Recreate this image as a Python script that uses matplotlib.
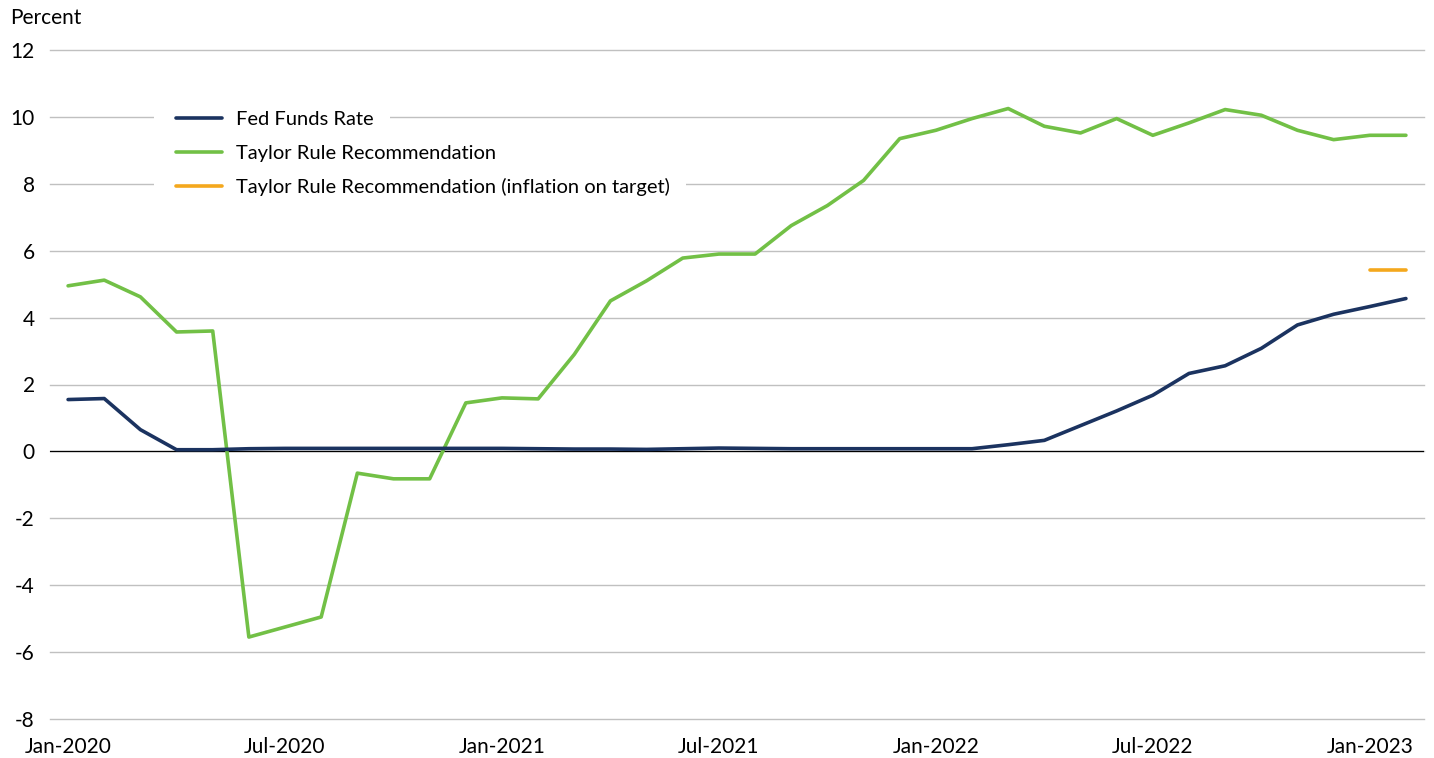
import matplotlib
matplotlib.use("Agg")
import matplotlib.pyplot as plt
from matplotlib.patches import Rectangle
import numpy as np

months = ["Jan-2020","Feb-2020","Mar-2020","Apr-2020","May-2020","Jun-2020","Jul-2020","Aug-2020",
          "Sep-2020","Oct-2020","Nov-2020","Dec-2020","Jan-2021","Feb-2021","Mar-2021","Apr-2021",
          "May-2021","Jun-2021","Jul-2021","Aug-2021","Sep-2021","Oct-2021","Nov-2021","Dec-2021",
          "Jan-2022","Feb-2022","Mar-2022","Apr-2022","May-2022","Jun-2022","Jul-2022","Aug-2022",
          "Sep-2022","Oct-2022","Nov-2022","Dec-2022","Jan-2023","Feb-2023"]

fed_funds = [1.55, 1.58, 0.65, 0.05, 0.05, 0.08, 0.09, 0.09, 0.09, 0.09, 0.09, 0.09, 0.09, 0.08,
             0.07, 0.07, 0.06, 0.08, 0.10, 0.09, 0.08, 0.08, 0.08, 0.08, 0.08, 0.08, 0.20, 0.33,
             0.77, 1.21, 1.68, 2.33, 2.56, 3.08, 3.78, 4.10, 4.33, 4.57]

taylor = [4.95, 5.12, 4.62, 3.57, 3.60, -5.55, -5.25, -4.95, -0.65, -0.82, -0.82, 1.45, 1.60, 1.57,
          2.90, 4.50, 5.10, 5.78, 5.90, 5.90, 6.75, 7.35, 8.10, 9.35, 9.60, 9.95, 10.25, 9.72,
          9.52, 9.95, 9.45, 9.82, 10.22, 10.05, 9.60, 9.32, 9.45, 9.45]

taylor_on_target = [np.nan] * 36 + [5.41, 5.41]

tick_labels = ["Jan-2020", "Jul-2020", "Jan-2021", "Jul-2021", "Jan-2022", "Jul-2022", "Jan-2023"]

plt.rcParams['font.family'] = ['Lato', 'DejaVu Sans']
plt.rcParams['axes.unicode_minus'] = False

fig = plt.figure(figsize=(14.34, 7.58), dpi=100)
ax = fig.add_axes([50/1434, 1-719/758, (1424-50)/1434, (719-50)/758])

x = np.arange(len(months))
navy = "#1b3360"
green = "#72c046"
orange = "#f4a81d"
lw = 2.6

ax.plot(x, fed_funds, color=navy, lw=lw, label="Fed Funds Rate", zorder=4, solid_capstyle='round')
ax.plot(x, taylor, color=green, lw=lw, label="Taylor Rule Recommendation", zorder=3, solid_capstyle='round')
ax.plot(x, taylor_on_target, color=orange, lw=lw, label="Taylor Rule Recommendation (inflation on target)",
        zorder=3, solid_capstyle='round')

ax.set_xlim(-0.5, len(months) - 0.5)
ax.set_ylim(-8, 12)
ax.set_yticks(np.arange(-8, 13, 2))
ax.grid(axis='y', color='#c0c0c0', lw=1.0)
ax.set_axisbelow(True)
ax.axhline(0, color='black', lw=0.9, zorder=2)

tick_pos = [months.index(t) for t in tick_labels]
ax.set_xticks(tick_pos)
ax.set_xticklabels(tick_labels)
for s in ax.spines.values():
    s.set_visible(False)
ax.tick_params(axis='both', length=0, labelsize=15, colors='black')
ax.tick_params(axis='y', pad=11)
ax.tick_params(axis='x', pad=13)

fig.text(10/1434, 1-18/758, "Percent", fontsize=15, va='center', ha='left')

fs = 14.5
leg = ax.legend(loc='upper left', bbox_to_anchor=(176/1434, 1-111/758), bbox_transform=fig.transFigure,
                frameon=False, fontsize=fs, handlelength=2.3, handletextpad=0.7, labelspacing=0.82,
                borderpad=0.0, borderaxespad=0)
leg.set_zorder(6)

# white background behind each legend entry (gridlines interrupted per entry)
fig.canvas.draw()
for gl in ax.get_ygridlines():
    gl.set_clip_on(False)
renderer = fig.canvas.get_renderer()
for txt in leg.get_texts():
    bb = txt.get_window_extent(renderer)
    yc = (bb.y0 + bb.y1) / 2
    x0 = 154
    x1 = bb.x1 + 16
    rect = Rectangle((x0, yc - 12), x1 - x0, 24, transform=None, facecolor='white',
                     edgecolor='none', zorder=1)
    ax.add_artist(rect)

fig.savefig("out.png", dpi=100)
